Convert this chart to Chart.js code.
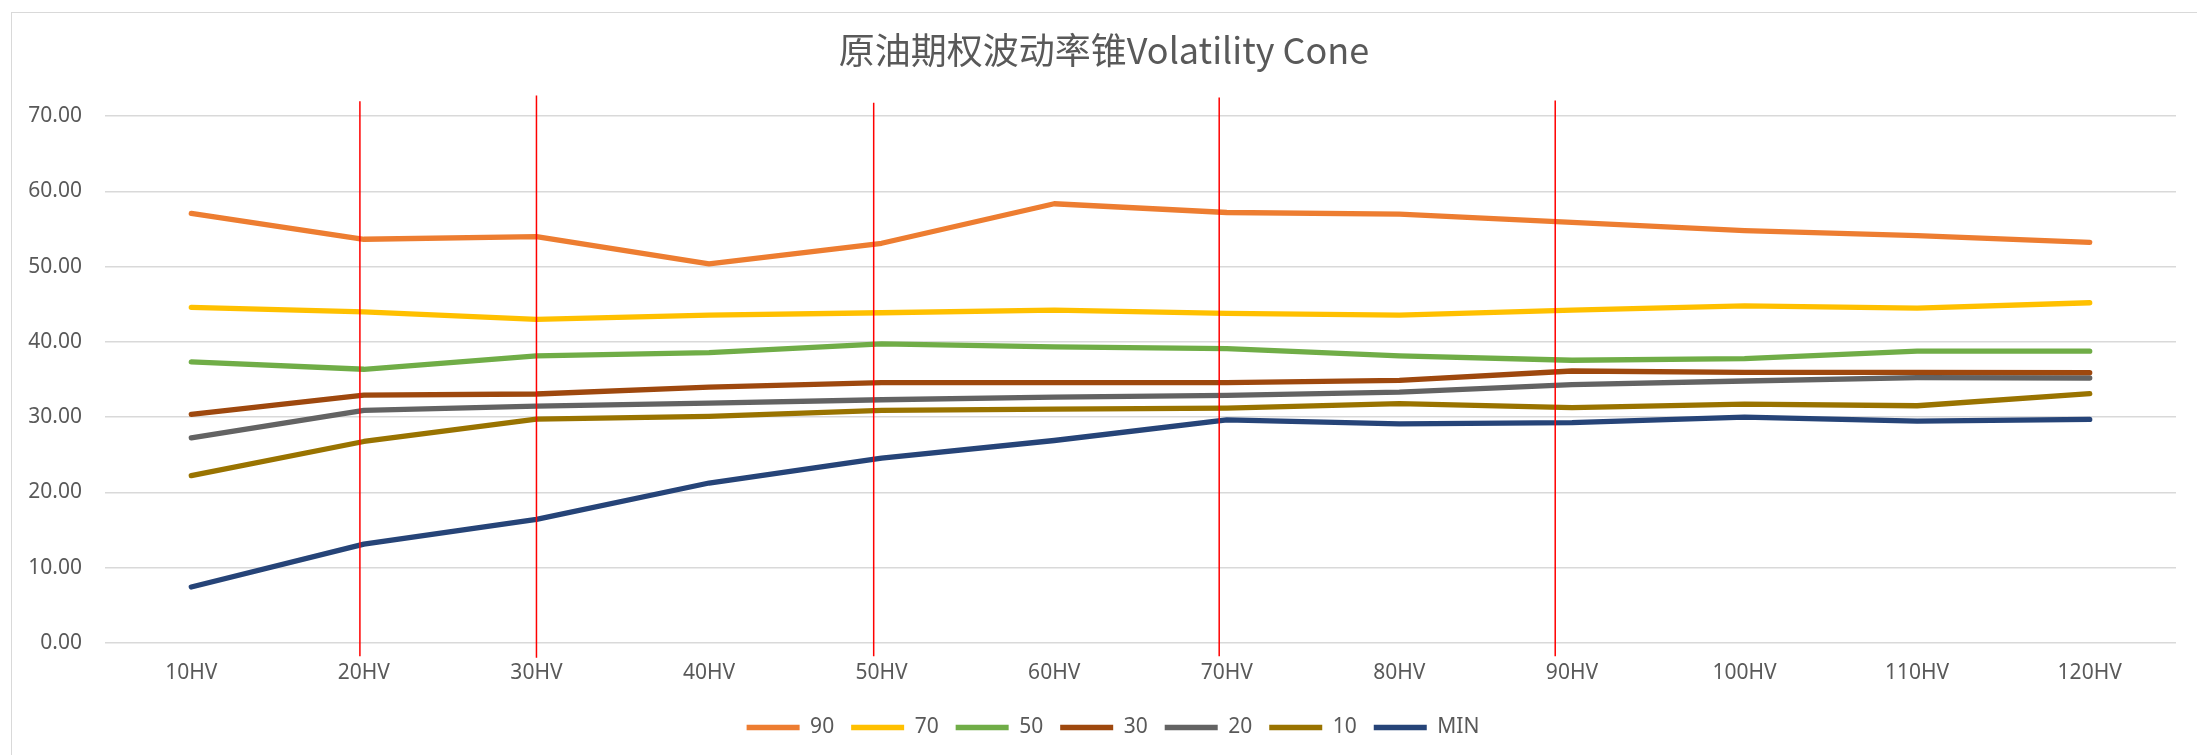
<!DOCTYPE html>
<html>
<head>
<meta charset="utf-8">
<script src="https://cdn.jsdelivr.net/npm/chart.js@4.4.1/dist/chart.umd.min.js"></script>
<style>
  html, body { margin: 0; padding: 0; background: #fff; }
  #wrap { position: relative; width: 2197px; height: 755px; overflow: hidden; }
  #frame { position: absolute; left: 11px; top: 12px; width: 2300px; height: 800px;
           border-top: 1.5px solid #d9d9d9; border-left: 1.5px solid #d9d9d9; }
  canvas { position: absolute; left: 0; top: 0; }
</style>
</head>
<body>
<div id="wrap">
  <div id="frame"></div>
  <canvas id="coneChart" width="2197" height="755"></canvas>
</div>
<script>
const categories = ['10HV', '20HV', '30HV', '40HV', '50HV', '60HV', '70HV', '80HV', '90HV', '100HV', '110HV', '120HV'];

const p90 = [57.07, 53.64, 54.00, 50.36, 53.11, 58.36, 57.20, 56.98, 55.90, 54.80, 54.13, 53.24];
const p70 = [44.58, 44.00, 42.98, 43.56, 43.87, 44.22, 43.78, 43.56, 44.22, 44.80, 44.49, 45.20];
const p50 = [37.33, 36.36, 38.13, 38.58, 39.73, 39.33, 39.11, 38.13, 37.56, 37.78, 38.76, 38.76];
const p30 = [30.36, 32.93, 33.07, 34.00, 34.58, 34.58, 34.58, 34.89, 36.13, 35.96, 35.96, 35.91];
const p20 = [27.24, 30.89, 31.47, 31.87, 32.31, 32.67, 32.89, 33.33, 34.33, 34.80, 35.24, 35.20];
const p10 = [22.22, 26.76, 29.73, 30.09, 30.89, 31.07, 31.20, 31.78, 31.27, 31.73, 31.51, 33.11];
const pMin = [7.42, 13.11, 16.40, 21.24, 24.56, 26.89, 29.64, 29.11, 29.27, 30.00, 29.47, 29.69];

const seriesNames = ['90', '70', '50', '30', '20', '10', 'MIN'];
const seriesColors = ['#ED7D31', '#FFC000', '#70AD47', '#9E480E', '#636363', '#997300', '#264478'];
const seriesValues = [p90, p70, p50, p30, p20, p10, pMin];

// red marker lines (hand drawn in the original, slightly left of some categories)
const markerX = [0.977, 2.0, 3.954, 5.956, 7.903];
const markerTop = [72.0, 72.76, 71.8, 72.5, 72.1];
const markerBottom = [-1.8, -2.0, -1.8, -1.8, -1.8];

const yTicks = [0, 10, 20, 30, 40, 50, 60, 70];

const textColor = '#595959';
const gridColor = '#d9d9d9';

const markerSets = markerX.map((x, i) => ({
    label: 'marker' + i,
    data: [{ x: x, y: markerTop[i] }, { x: x, y: markerBottom[i] }],
    xAxisID: 'xr',
    borderColor: '#ff0000',
    borderWidth: 1.5,
    pointRadius: 0,
    clip: false
}));

const lineSets = seriesNames.map((name, i) => ({
    label: name,
    data: seriesValues[i],
    xAxisID: 'x',
    borderColor: seriesColors[i],
    backgroundColor: seriesColors[i],
    borderWidth: 5.3,
    borderCapStyle: 'round',
    borderJoinStyle: 'round',
    pointRadius: 0,
    tension: 0
}));

// let the y labels run past the axis box, and nudge the legend right like the original
const layoutTweak = {
    id: 'layoutTweak',
    afterLayout(chart) {
        chart.scales.y.left = 0;
        chart.legend.left += 9;
        chart.legend.right += 9;
    }
};

const ctx = document.getElementById('coneChart').getContext('2d');
new Chart(ctx, {
    type: 'line',
    data: {
        labels: categories,
        datasets: markerSets.concat(lineSets)
    },
    plugins: [layoutTweak],
    options: {
        responsive: false,
        animation: false,
        devicePixelRatio: 1,
        layout: { padding: { left: 32, right: 21, top: 0, bottom: 7 } },
        plugins: {
            title: {
                display: true,
                text: '原油期权波动率锥Volatility Cone',
                color: textColor,
                font: { family: '"Noto Sans CJK SC", "Noto Sans", sans-serif', size: 36, weight: 'normal' },
                padding: { top: 29, bottom: 44 }
            },
            legend: {
                position: 'bottom',
                labels: {
                    filter: item => !item.text.startsWith('marker'),
                    color: textColor,
                    font: { family: '"Noto Sans", sans-serif', size: 21 },
                    usePointStyle: true,
                    pointStyle: 'line',
                    pointStyleWidth: 53,
                    boxHeight: 21,
                    padding: 17
                }
            },
            tooltip: { enabled: false }
        },
        scales: {
            x: {
                type: 'category',
                offset: true,
                afterFit: scale => { scale.height -= 4; },
                grid: { display: false, drawTicks: false },
                border: { display: false },
                ticks: {
                    color: textColor,
                    font: { family: '"Noto Sans", sans-serif', size: 21 },
                    padding: 18,
                    maxRotation: 0,
                    autoSkip: false
                }
            },
            xr: {
                type: 'linear',
                display: false,
                min: -0.5,
                max: categories.length - 0.5
            },
            y: {
                min: 0,
                max: 70,
                afterFit: scale => { scale.width = 73; },
                afterBuildTicks: scale => { scale.ticks = yTicks.map(v => ({ value: v })); },
                grid: { color: gridColor, lineWidth: 1.5, drawTicks: false },
                border: { display: false },
                ticks: {
                    color: textColor,
                    font: { family: '"Noto Sans", sans-serif', size: 21 },
                    padding: 23,
                    callback: v => Number(v).toFixed(2)
                }
            }
        }
    }
});
</script>
</body>
</html>
